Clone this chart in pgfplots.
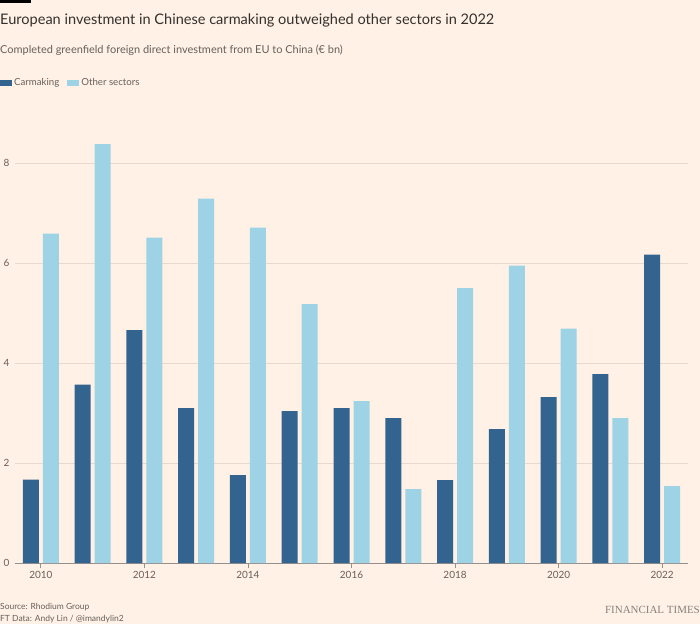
\documentclass[border=0pt]{standalone}
\usepackage{pgfplots}
\pgfplotsset{compat=1.18}
\usepackage{fontspec}
\setmainfont{Lato}
\definecolor{bg}{HTML}{FFF1E5}
\definecolor{car}{HTML}{33638F}
\definecolor{oth}{HTML}{9DD3E5}
\definecolor{txt}{HTML}{33302E}
\definecolor{sub}{HTML}{66605C}
\definecolor{gridc}{HTML}{E6D9CE}
\begin{document}
\begin{tikzpicture}[x=1bp,y=1bp]
\fill[bg] (0,0) rectangle (700,-624);
\fill[black] (0,0) rectangle (31,-3);
\node[anchor=west, inner sep=0, text=txt, font=\fontsize{14.6}{17}\selectfont] at (0,-20) {European investment in Chinese carmaking outweighed other sectors in 2022};
\node[anchor=west, inner sep=0, text=sub, font=\fontsize{11}{13}\selectfont] at (0,-50) {Completed greenfield foreign direct investment from EU to China (€ bn)};
\begin{axis}[
  at={(15bp,-563bp)}, anchor=south west,
  scale only axis, width=673bp, height=450bp,
  xmin=2009.5, xmax=2022.5, ymin=0, ymax=9,
  ybar, bar width=16bp,
  xtick={2010,2012,...,2022},
  ytick={0,2,4,6,8},
  xticklabel style={/pgf/number format/1000 sep={}, text=sub, font=\fontsize{10}{12}\selectfont},
  yticklabel style={anchor=west, xshift=-15bp, text=sub, font=\fontsize{10}{12}\selectfont},
  /pgf/number format/assume math mode=true,
  xmajorgrids=false, ymajorgrids=true,
  major grid style={draw=gridc, line width=0.8bp},
  axis x line*=bottom, axis y line*=left,
  x axis line style={-, draw=sub!70, line width=0.8bp},
  y axis line style={draw=none},
  xtick align=outside, major tick length=5bp,
  xtick style={draw=sub!70, line width=0.8bp},
  ytick style={draw=none},
  legend style={at={(-15bp,480bp)}, anchor=west, draw=none, fill=none, inner sep=0, text=sub, font=\fontsize{9.7}{12}\selectfont, /tikz/every even column/.append style={column sep=6bp}},
  legend columns=2,
  legend image code/.code={\fill[#1] (0bp,-3bp) rectangle (12bp,3bp);},
]
\addplot[fill=car, draw=none, bar shift=-10bp] coordinates {
(2010,1.67) (2011,3.57) (2012,4.66) (2013,3.10) (2014,1.76) (2015,3.04) (2016,3.10)
(2017,2.90) (2018,1.66) (2019,2.68) (2020,3.32) (2021,3.78) (2022,6.17)};
\addplot[fill=oth, draw=none, bar shift=10bp] coordinates {
(2010,6.59) (2011,8.38) (2012,6.51) (2013,7.29) (2014,6.71) (2015,5.18) (2016,3.24)
(2017,1.48) (2018,5.50) (2019,5.95) (2020,4.69) (2021,2.90) (2022,1.54)};
\legend{Carmaking, Other sectors}
\end{axis}
\node[anchor=west, inner sep=0, text=sub, font=\fontsize{8.5}{10}\selectfont] at (0,-607) {Source: Rhodium Group};
\node[anchor=west, inner sep=0, text=sub, font=\fontsize{8.5}{10}\selectfont] at (0,-619) {FT Data: Andy Lin / @imandylin2};
\node[anchor=east, inner sep=0, text=sub!80, font=\fontspec{Liberation Serif}\fontsize{11}{13}\selectfont] at (700,-610) {FINANCIAL TIMES};
\end{tikzpicture}
\end{document}
